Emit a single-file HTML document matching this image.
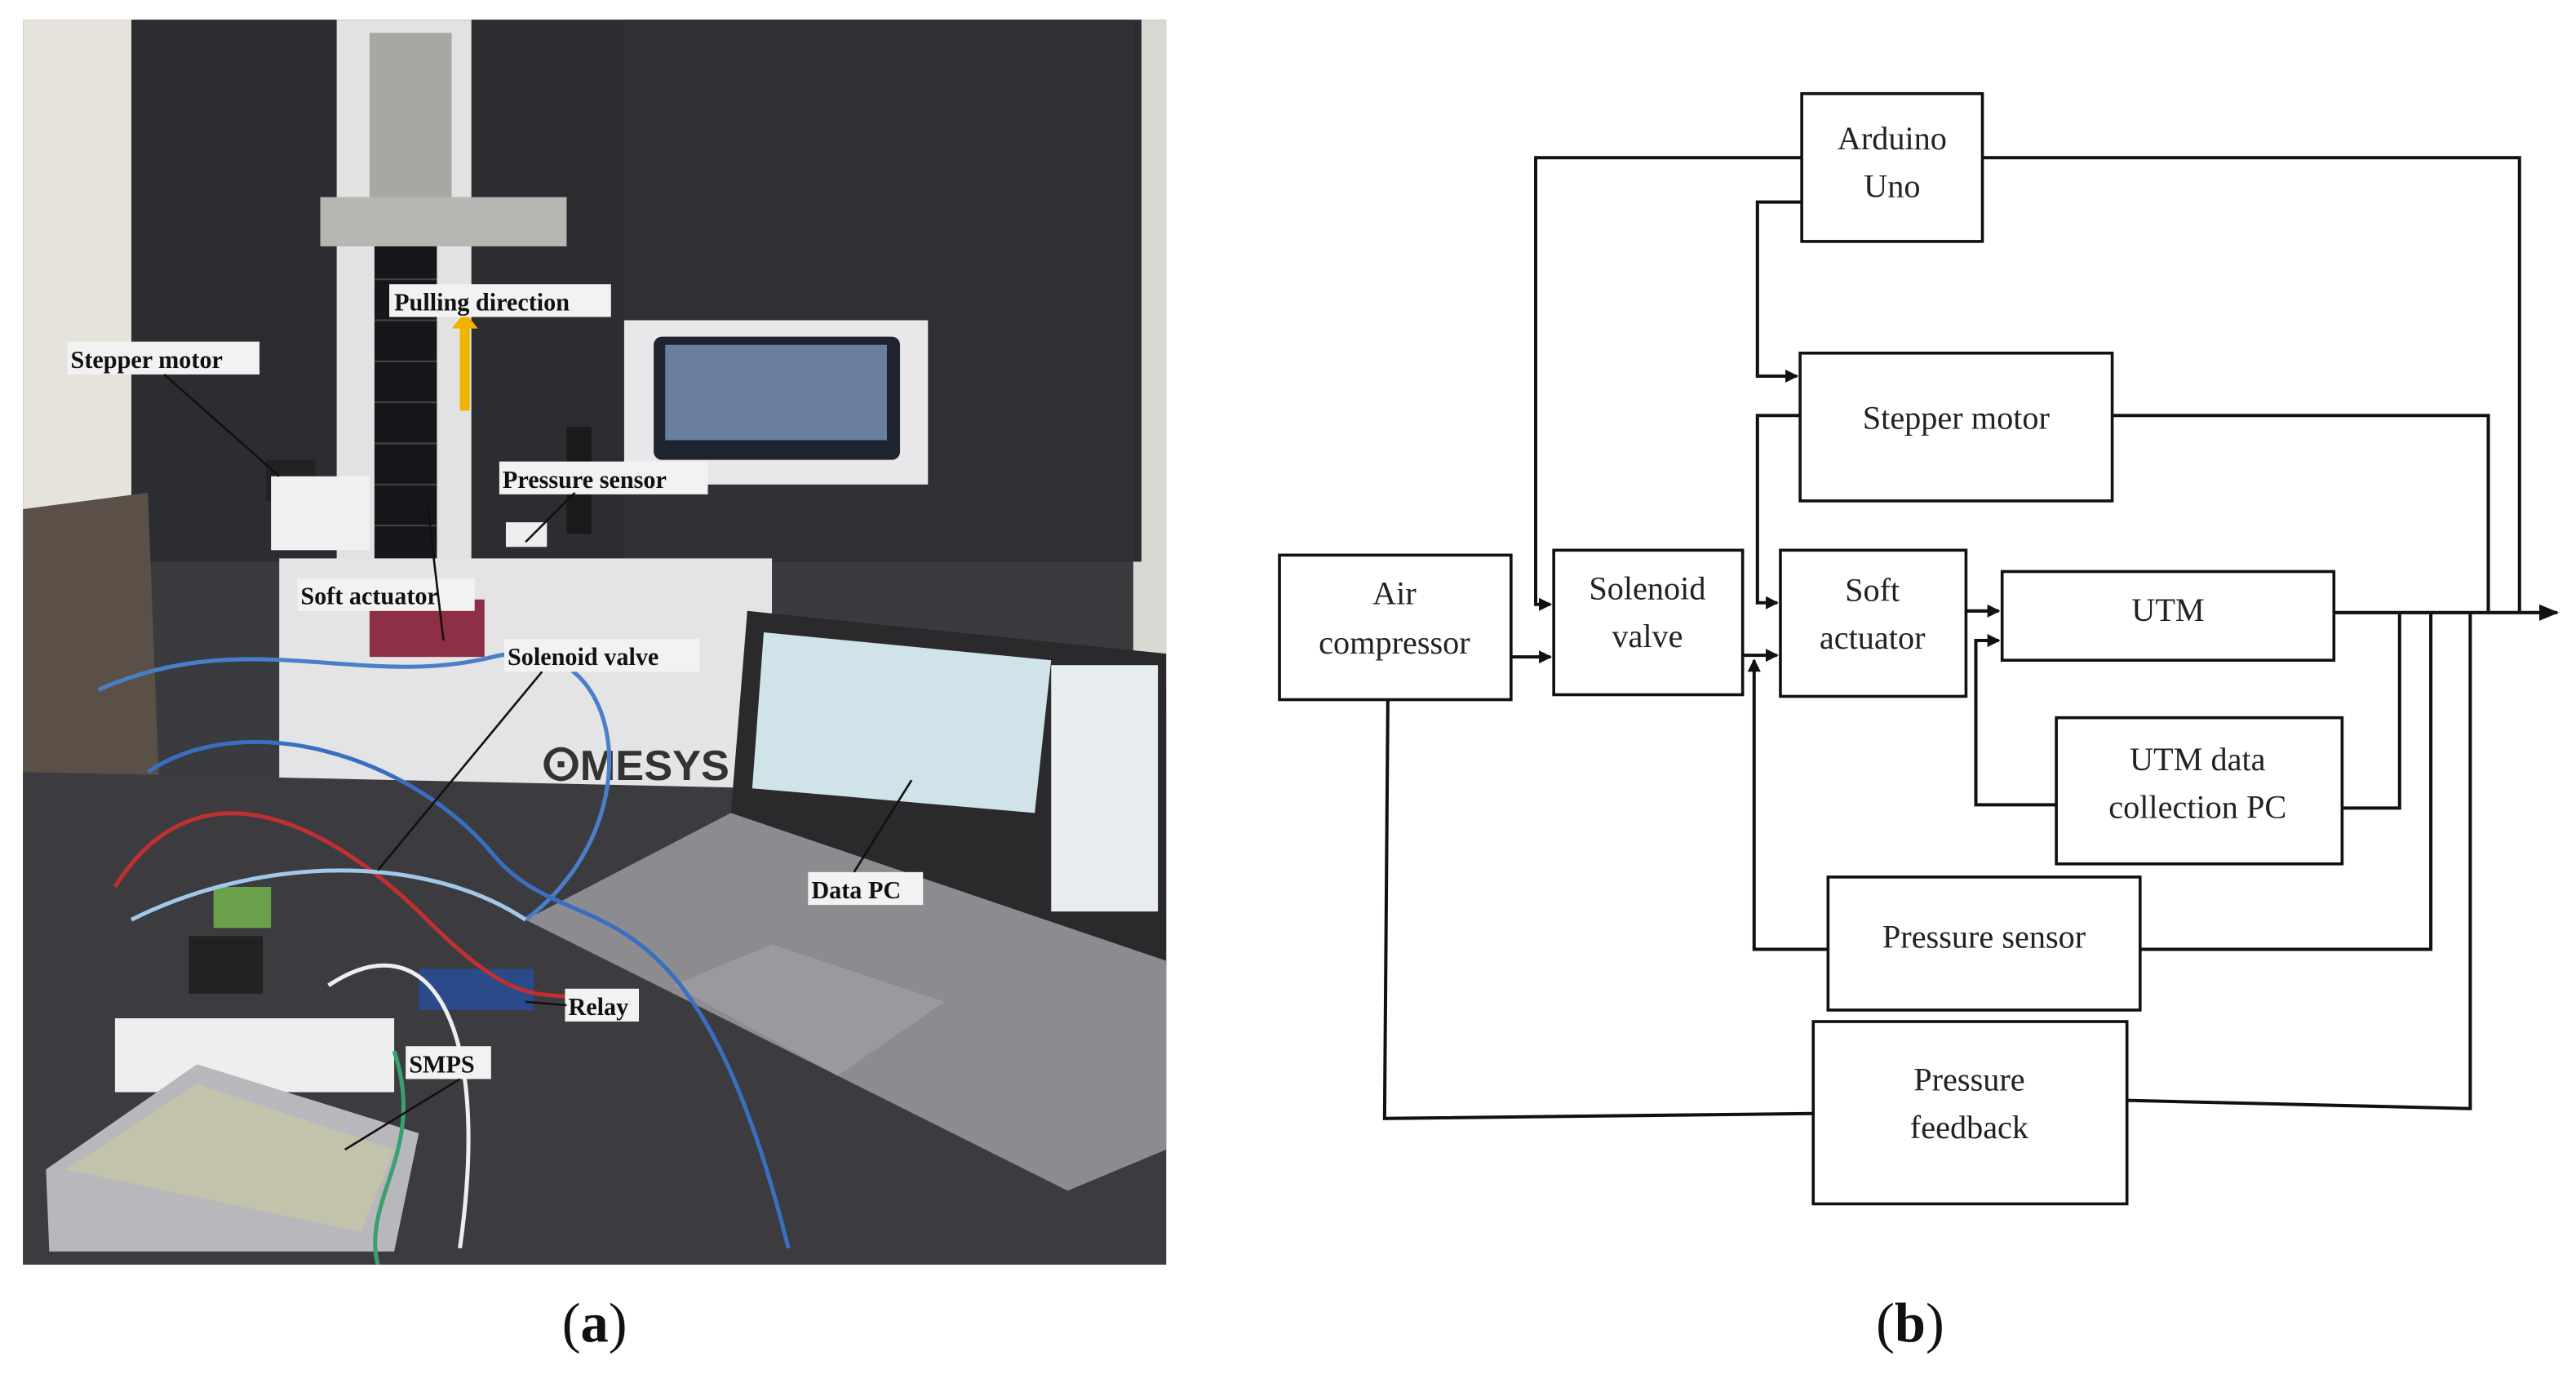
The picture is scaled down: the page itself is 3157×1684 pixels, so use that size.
<!DOCTYPE html>
<html><head><meta charset="utf-8"><style>
html,body{margin:0;padding:0;background:#fff;}
svg{display:block;}
.b{fill:#fff;stroke:#111;stroke-width:1.8;}
.l{fill:none;stroke:#111;stroke-width:2;}
.t{font-family:"Liberation Serif",serif;font-size:20px;fill:#222;text-anchor:middle;}
.pl{font-family:"Liberation Serif",serif;font-weight:bold;font-size:15px;fill:#111;}
.lb{fill:#f2f2f2;}
</style></head><body>
<svg width="3157" height="1684" viewBox="0 0 1568.4 836.6" preserveAspectRatio="none" xmlns="http://www.w3.org/2000/svg">
<defs>
<marker id="a" markerWidth="8" markerHeight="8" refX="7" refY="4" orient="auto" markerUnits="userSpaceOnUse"><path d="M0,0 L8,4 L0,8 z" fill="#111"/></marker>
<marker id="a2" markerWidth="12" markerHeight="10" refX="11" refY="5" orient="auto" markerUnits="userSpaceOnUse"><path d="M0,0 L12,5 L0,10 z" fill="#111"/></marker>
</defs>
<!-- PHOTO -->
<g>
<rect x="14" y="12" width="696" height="758" fill="#3a3b3f"/>
<rect x="14" y="12" width="70" height="330" fill="#e6e3dc"/>
<rect x="690" y="12" width="20" height="420" fill="#dad8d2"/>
<rect x="80" y="12" width="615" height="330" fill="#2b2d31"/>
<rect x="380" y="12" width="310" height="330" fill="#2f3135"/>
<rect x="205" y="12" width="82" height="370" fill="#e2e2e2"/>
<rect x="228" y="45" width="38" height="300" fill="#15171a"/>
<g stroke="#444" stroke-width="1">
<line x1="228" y1="70" x2="266" y2="70"/><line x1="228" y1="95" x2="266" y2="95"/><line x1="228" y1="120" x2="266" y2="120"/><line x1="228" y1="145" x2="266" y2="145"/><line x1="228" y1="170" x2="266" y2="170"/><line x1="228" y1="195" x2="266" y2="195"/><line x1="228" y1="220" x2="266" y2="220"/><line x1="228" y1="245" x2="266" y2="245"/><line x1="228" y1="270" x2="266" y2="270"/><line x1="228" y1="295" x2="266" y2="295"/><line x1="228" y1="320" x2="266" y2="320"/>
</g>
<rect x="195" y="120" width="150" height="30" fill="#b8b6b2"/>
<rect x="225" y="20" width="50" height="100" fill="#a9a7a3"/>
<rect x="380" y="195" width="185" height="100" fill="#e8e8ea"/>
<rect x="398" y="205" width="150" height="75" rx="5" fill="#1e2530"/>
<rect x="405" y="210" width="135" height="58" fill="#6a7f9d"/>
<rect x="345" y="260" width="15" height="65" fill="#1a1a1a"/>
<rect x="170" y="340" width="300" height="150" fill="#e4e4e6"/>
<rect x="225" y="365" width="70" height="35" fill="#8e2f45"/>
<polygon points="14,310 90,300 100,560 14,560" fill="#5a5047"/>
<polygon points="14,470 470,480 710,420 710,770 14,770" fill="#3c3c40"/>
<text x="330" y="475" font-family="Liberation Sans,sans-serif" font-weight="bold" font-size="26" fill="#333">ⵙMESYS</text>
<polygon points="455,372 710,398 710,590 445,495" fill="#2a2a2c"/>
<polygon points="465,385 640,402 630,495 458,480" fill="#cfe3e8"/>
<rect x="640" y="405" width="65" height="150" fill="#e8eef0"/>
<polygon points="320,560 445,495 710,585 710,700 650,725" fill="#8c8c90"/>
<polygon points="410,600 470,575 575,610 510,655" fill="#9a9a9e"/>
<rect x="70" y="620" width="170" height="45" fill="#eeeeee"/>
<polygon points="28,712 120,648 255,690 240,762 30,762" fill="#b8b8bc"/>
<polygon points="40,712 120,660 240,700 220,750" fill="#c9c9a0" opacity="0.6"/>
<rect x="255" y="590" width="70" height="25" fill="#2a4a8a"/>
<rect x="115" y="570" width="45" height="35" fill="#222"/>
<rect x="130" y="540" width="35" height="25" fill="#6aa04a"/>
<g fill="none" stroke-width="2.5">
<path d="M60,420 C150,380 220,420 300,400 S400,500 320,560" stroke="#4a7fc8"/>
<path d="M90,470 C150,430 250,460 300,520 S420,520 480,760" stroke="#3a6fc0"/>
<path d="M70,540 C120,460 200,500 260,560 S330,600 360,610" stroke="#c03030"/>
<path d="M80,560 C160,520 260,520 320,560" stroke="#a0c8e8"/>
<path d="M200,600 C260,560 300,620 280,760" stroke="#eeeeee"/>
<path d="M240,640 C260,700 220,730 230,770" stroke="#3aa070"/>
</g>
<rect x="162" y="280" width="30" height="25" fill="#222"/>
<rect x="165" y="290" width="60" height="45" fill="#f0f0f0"/>
<rect x="308" y="318" width="25" height="15" fill="#eee"/>
<rect x="280" y="195" width="6" height="55" fill="#f0b400"/>
<polygon points="275,200 283,190 291,200" fill="#f0b400"/>
<g>
<rect class="lb" x="237" y="173" width="135" height="20"/><text class="pl" x="240" y="189">Pulling direction</text>
<rect class="lb" x="41" y="208" width="117" height="20"/><text class="pl" x="43" y="224">Stepper motor</text>
<rect class="lb" x="304" y="281" width="127" height="20"/><text class="pl" x="306" y="297">Pressure sensor</text>
<rect class="lb" x="181" y="352" width="108" height="20"/><text class="pl" x="183" y="368">Soft actuator</text>
<rect class="lb" x="307" y="389" width="119" height="20"/><text class="pl" x="309" y="405">Solenoid valve</text>
<rect class="lb" x="492" y="531" width="70" height="20"/><text class="pl" x="494" y="547">Data PC</text>
<rect class="lb" x="344" y="602" width="45" height="20"/><text class="pl" x="346" y="618">Relay</text>
<rect class="lb" x="247" y="637" width="52" height="20"/><text class="pl" x="249" y="653">SMPS</text>
</g>
<g stroke="#111" stroke-width="1.3">
<line x1="100" y1="228" x2="170" y2="290"/><line x1="350" y1="300" x2="320" y2="330"/><line x1="270" y1="390" x2="260" y2="305"/><line x1="330" y1="409" x2="230" y2="530"/><line x1="520" y1="531" x2="555" y2="475"/><line x1="280" y1="657" x2="210" y2="700"/><line x1="345" y1="612" x2="320" y2="610"/>
</g>
</g>
<text x="362" y="817" font-family="Liberation Serif,serif" font-size="34" text-anchor="middle" fill="#111">(<tspan font-weight="bold">a</tspan>)</text>
<text x="1163" y="817" font-family="Liberation Serif,serif" font-size="34" text-anchor="middle" fill="#111">(<tspan font-weight="bold">b</tspan>)</text>
<!-- DIAGRAM -->
<g class="l">
<polyline points="1097,96 935,96 935,368 944,368" marker-end="url(#a)"/>
<polyline points="1207,96 1534,96 1534,373"/>
<polyline points="1097,123 1070,123 1070,229 1094,229" marker-end="url(#a)"/>
<polyline points="1096,253 1070,253 1070,367 1082,367" marker-end="url(#a)"/>
<polyline points="1286,253 1515,253 1515,373"/>
<line x1="920" y1="400" x2="944" y2="400" marker-end="url(#a)"/>
<line x1="1061" y1="399" x2="1082" y2="399" marker-end="url(#a)"/>
<polyline points="1113,578 1068,578 1068,402" marker-end="url(#a)"/>
<line x1="1197" y1="372" x2="1217" y2="372" marker-end="url(#a)"/>
<polyline points="1252,490 1203,490 1203,390 1217,390" marker-end="url(#a)"/>
<line x1="1421" y1="373" x2="1557" y2="373" marker-end="url(#a2)"/>
<polyline points="1426,492 1461,492 1461,373"/>
<polyline points="1303,578 1480,578 1480,373"/>
<polyline points="1295,670 1504,675 1504,373"/>
<polyline points="845,426 843,681 1104,678"/>
</g>
<rect class="b" x="1097" y="57" width="110" height="90"/>
<text class="t" x="1152" y="91">Arduino</text><text class="t" x="1152" y="120">Uno</text>
<rect class="b" x="1096" y="215" width="190" height="90"/>
<text class="t" x="1191" y="261">Stepper motor</text>
<rect class="b" x="779" y="338" width="141" height="88"/>
<text class="t" x="849" y="368">Air</text><text class="t" x="849" y="398">compressor</text>
<rect class="b" x="946" y="335" width="115" height="88"/>
<text class="t" x="1003" y="365">Solenoid</text><text class="t" x="1003" y="394">valve</text>
<rect class="b" x="1084" y="335" width="113" height="89"/>
<text class="t" x="1140" y="366">Soft</text><text class="t" x="1140" y="395">actuator</text>
<rect class="b" x="1219" y="348" width="202" height="54"/>
<text class="t" x="1320" y="378">UTM</text>
<rect class="b" x="1252" y="437" width="174" height="89"/>
<text class="t" x="1338" y="469">UTM data</text><text class="t" x="1338" y="498">collection PC</text>
<rect class="b" x="1113" y="534" width="190" height="81"/>
<text class="t" x="1208" y="577">Pressure sensor</text>
<rect class="b" x="1104" y="622" width="191" height="111"/>
<text class="t" x="1199" y="664">Pressure</text><text class="t" x="1199" y="693">feedback</text>
</svg>
</body></html>
